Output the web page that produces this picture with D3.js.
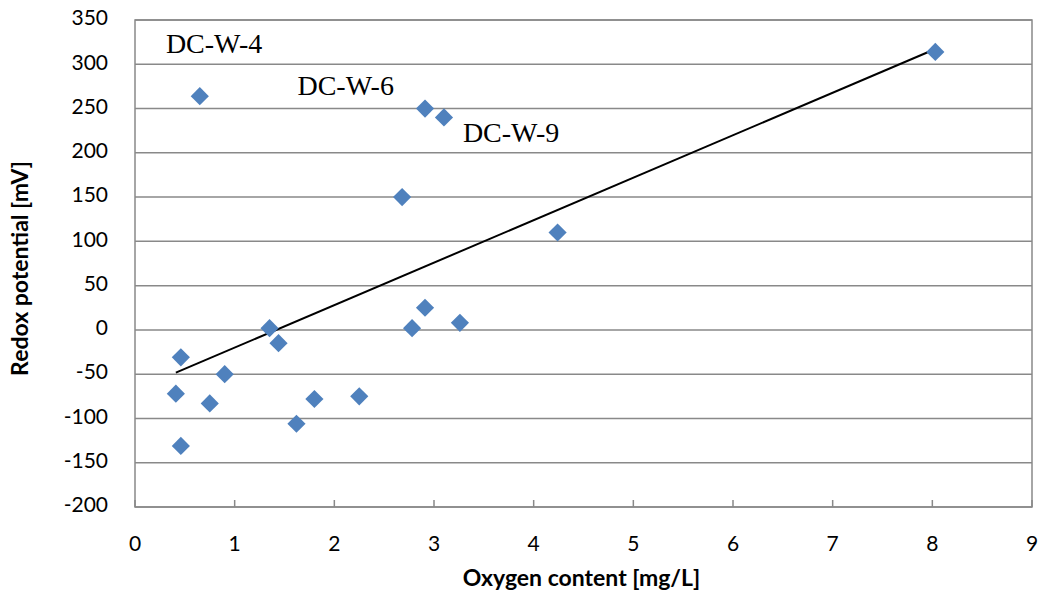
<!DOCTYPE html>
<html>
<head>
<meta charset="utf-8">
<script src="https://cdn.jsdelivr.net/npm/d3@7"></script>
<style>
  body { margin: 0; background: #fff; }
  svg { display: block; }
  .tick-label { font-family: Lato, "Open Sans", sans-serif; font-size: 21px; fill: #000; }
  .axis-title { font-family: Lato, "Open Sans", sans-serif; font-size: 23px; font-weight: bold; fill: #000; }
  .note { font-family: "Liberation Serif", "Times New Roman", serif; font-size: 28px; fill: #000; }
</style>
</head>
<body>
<svg id="chart" width="1040" height="596"></svg>
<script>
// Oxygen content [mg/L] vs redox potential [mV]
const oxygen = [0.65, 2.91, 3.10, 2.68, 4.24, 8.03, 2.91, 3.26, 2.78, 1.35,
                1.44, 0.46, 0.90, 0.41, 0.75, 1.62, 1.80, 2.25, 0.46];
const redox  = [264, 250, 240, 150, 110, 314, 25, 8, 2, 2,
                -15, -31, -50, -72, -83, -106, -78, -75, -131];

const xTicks = [0, 1, 2, 3, 4, 5, 6, 7, 8, 9];
const yTicks = [-200, -150, -100, -50, 0, 50, 100, 150, 200, 250, 300, 350];

// well labels, anchored at data coordinates (left end of baseline)
const noteText = ['DC-W-4', 'DC-W-6', 'DC-W-9'];
const noteX = [0.31, 1.63, 3.29];
const noteY = [313, 265, 212];

const svg = d3.select('#chart');
const margin = { top: 20, right: 8, bottom: 89, left: 135 };
const width = 1040 - margin.left - margin.right;
const height = 596 - margin.top - margin.bottom;

const g = svg.append('g')
    .attr('transform', `translate(${margin.left},${margin.top})`);

const x = d3.scaleLinear().domain([0, 9]).range([0, width]);
const y = d3.scaleLinear().domain([-200, 350]).range([height, 0]);

const gridColor = '#898989';

// Horizontal gridlines
g.selectAll('.grid')
    .data(yTicks)
    .enter()
    .append('line')
    .attr('x1', 0)
    .attr('x2', width)
    .attr('y1', d => y(d))
    .attr('y2', d => y(d))
    .style('stroke', gridColor)
    .style('stroke-width', 1.5);

// Plot frame
g.append('rect')
    .attr('width', width)
    .attr('height', height)
    .style('fill', 'none')
    .style('stroke', gridColor)
    .style('stroke-width', 1.5);

// X-axis ticks (inside) and labels
g.selectAll('.xtick')
    .data(xTicks)
    .enter()
    .append('line')
    .attr('x1', d => x(d))
    .attr('x2', d => x(d))
    .attr('y1', height)
    .attr('y2', height - 7)
    .style('stroke', gridColor)
    .style('stroke-width', 1.5);

g.selectAll('.xlabel')
    .data(xTicks)
    .enter()
    .append('text')
    .attr('class', 'tick-label')
    .attr('x', d => x(d))
    .attr('y', height + 39)
    .attr('text-anchor', 'middle')
    .attr('dominant-baseline', 'middle')
    .text(d => d);

// Y-axis labels
g.selectAll('.ylabel')
    .data(yTicks)
    .enter()
    .append('text')
    .attr('class', 'tick-label')
    .attr('x', -27)
    .attr('y', d => y(d))
    .attr('text-anchor', 'end')
    .attr('dominant-baseline', 'middle')
    .text(d => d);

// Axis titles
svg.append('text')
    .attr('class', 'axis-title')
    .attr('x', margin.left + width / 2 - 2)
    .attr('y', 580)
    .attr('text-anchor', 'middle')
    .attr('dominant-baseline', 'middle')
    .text('Oxygen content [mg/L]');

svg.append('text')
    .attr('class', 'axis-title')
    .attr('transform', `translate(22,${margin.top + height / 2 + 5}) rotate(-90)`)
    .attr('text-anchor', 'middle')
    .attr('dominant-baseline', 'middle')
    .text('Redox potential [mV]');

// Linear trend line (least squares)
const points = oxygen.map((v, i) => ({ x: v, y: redox[i] }));
const mx = d3.mean(points, d => d.x);
const my = d3.mean(points, d => d.y);
const slope = d3.sum(points, d => (d.x - mx) * (d.y - my)) /
              d3.sum(points, d => (d.x - mx) * (d.x - mx));
const intercept = my - slope * mx;
const xExt = d3.extent(oxygen);

g.append('line')
    .attr('x1', x(xExt[0]))
    .attr('x2', x(xExt[1]))
    .attr('y1', y(intercept + slope * xExt[0]))
    .attr('y2', y(intercept + slope * xExt[1]))
    .style('stroke', '#000')
    .style('stroke-width', 2);

// Diamond markers
const diamond = d3.symbol().type(d3.symbolSquare).size(165);
g.selectAll('.pt')
    .data(points)
    .enter()
    .append('path')
    .attr('d', diamond)
    .attr('transform', d => `translate(${x(d.x)},${y(d.y)}) rotate(45)`)
    .style('fill', '#4F81BD');

// Well annotations
g.selectAll('.note')
    .data(noteText)
    .enter()
    .append('text')
    .attr('class', 'note')
    .attr('x', (d, i) => x(noteX[i]))
    .attr('y', (d, i) => y(noteY[i]))
    .text(d => d);
</script>
</body>
</html>
